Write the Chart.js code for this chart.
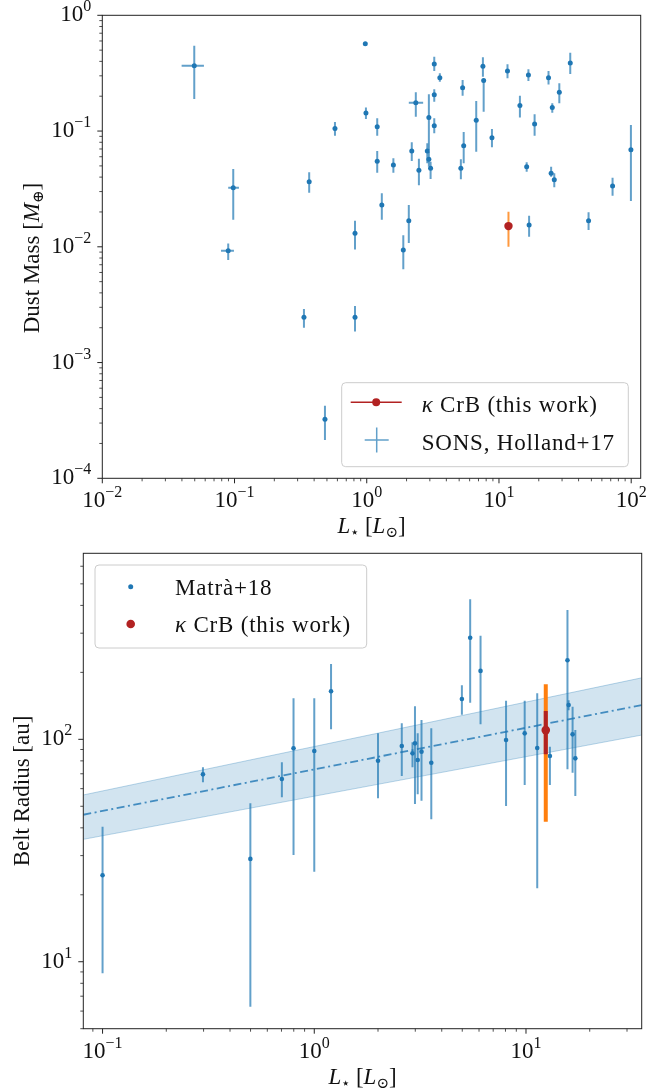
<!DOCTYPE html>
<html>
<head>
<meta charset="utf-8">
<title>Dust mass and belt radius against stellar luminosity</title>
<script src="https://cdn.jsdelivr.net/npm/chart.js@4.4.1/dist/chart.umd.min.js"></script>
<style>
  body { margin: 0; background: #fff; }
  .panel { position: absolute; left: 0; width: 666px; }
  #top-panel { top: 0; height: 545px; }
  #bottom-panel { top: 545px; height: 545px; }
</style>
</head>
<body>
<div class="panel" id="top-panel"><canvas id="mass-chart"></canvas></div>
<div class="panel" id="bottom-panel"><canvas id="radius-chart"></canvas></div>
<script>
//SONS sample, Holland+17 (top panel)
const sonsLum = [0.0496, 0.0896, 0.0978, 0.335, 0.367, 0.483, 0.575, 0.815, 0.815, 0.975,
    0.986, 1.20, 1.20, 1.30, 1.59, 1.89, 2.08, 2.19, 2.35, 2.48,
    2.87, 2.95, 2.95, 3.04, 3.24, 3.24, 3.24, 3.57, 5.15, 5.31,
    5.41, 6.73, 7.56, 7.66, 8.85, 11.6, 14.4, 16.2, 16.7, 16.9,
    18.6, 23.7, 24.8, 25.3, 26.2, 28.6, 34.6, 47.6, 72.3, 99.5];
const sonsMass = [0.367, 0.00925, 0.0324, 0.00246, 0.0365, 0.000324, 0.105, 0.0131, 0.00246, 0.569,
    0.143, 0.109, 0.0548, 0.0230, 0.0509, 0.00938, 0.0168, 0.0673, 0.176, 0.0458,
    0.0673, 0.131, 0.0570, 0.0477, 0.380, 0.206, 0.111, 0.289, 0.0477, 0.237,
    0.0747, 0.124, 0.363, 0.274, 0.0876, 0.330, 0.166, 0.0492, 0.305, 0.0154,
    0.115, 0.289, 0.0431, 0.160, 0.0380, 0.216, 0.387, 0.0168, 0.0335, 0.069];
const sonsMassLo = [0.189, 0.00769, 0.0171, 0.00200, 0.0293, 0.000214, 0.0912, 0.0095, 0.00185, 0.555,
    0.127, 0.0912, 0.0437, 0.0171, 0.0437, 0.0064, 0.0108, 0.0551, 0.133, 0.0340,
    0.0526, 0.0686, 0.0492, 0.0385, 0.330, 0.179, 0.0957, 0.267, 0.0383, 0.202,
    0.0526, 0.0663, 0.295, 0.147, 0.0724, 0.286, 0.131, 0.0445, 0.271, 0.0122,
    0.0912, 0.253, 0.0403, 0.144, 0.0327, 0.174, 0.311, 0.0140, 0.0276, 0.0249];
const sonsMassHi = [0.546, 0.0107, 0.0470, 0.00290, 0.0440, 0.000424, 0.120, 0.0168, 0.00308, 0.585,
    0.160, 0.129, 0.0673, 0.0290, 0.0582, 0.0126, 0.0230, 0.0799, 0.216, 0.0577,
    0.0784, 0.208, 0.0663, 0.0543, 0.439, 0.230, 0.129, 0.315, 0.0570, 0.276,
    0.0981, 0.182, 0.434, 0.281, 0.104, 0.377, 0.202, 0.0537, 0.342, 0.0185,
    0.140, 0.330, 0.0492, 0.174, 0.0431, 0.259, 0.475, 0.0199, 0.0395, 0.113];
// luminosity errors, only a few stars have them
const sonsLumLo = [0.0398, 0.0790, 0.0896, null, null, null, null, null, null, null,
    null, null, null, null, null, null, null, null, 2.08, null,
    null, null, null, null, null, null, null, null, null, null,
    null, null, null, null, null, null, null, null, null, null,
    null, null, null, null, null, null, null, null, null, null];
const sonsLumHi = [0.0587, 0.099, 0.108, null, null, null, null, null, null, null,
    null, null, null, null, null, null, null, null, 2.67, null,
    null, null, null, null, null, null, null, null, null, null,
    null, null, null, null, null, null, null, null, null, null,
    null, null, null, null, null, null, null, null, null, null];

//kappa CrB dust mass
const kcrbLum = [11.8];
const kcrbMass = [0.0151];
const kcrbMassLo = [0.0100];
const kcrbMassHi = [0.0201];

//Matra+18 belts (bottom panel)
const matraLum = [0.1, 0.298, 0.499, 0.703, 0.798, 1.0, 1.2, 2.0, 2.59, 2.91,
    2.99, 3.08, 3.21, 3.57, 4.98, 5.45, 6.10, 8.05, 9.86, 11.3,
    12.97, 15.7, 15.9, 16.6, 17.1];
const matraRadius = [24.5, 69.6, 29.0, 66.3, 91.1, 88.6, 164.4, 80.1, 93.3, 86.5,
    95.9, 80.7, 88.0, 78.5, 151.8, 286, 203, 99.3, 106.4, 91.4,
    84.1, 226.6, 142.7, 105.3, 82.1];
const matraRadiusLo = [8.87, 64.1, 6.28, 54.9, 30.2, 25.4, 111, 54.3, 68.4, 74.8,
    51.2, 56.6, 53, 43.7, 129, 146, 117, 50.1, 62.3, 21.4,
    62.3, 73.3, 135, 70.8, 55.6];
const matraRadiusHi = [40.5, 74.8, 51.6, 78.8, 152.9, 152.9, 218, 106.4, 118, 96.9,
    141, 106.4, 122, 112, 175, 426, 292, 149, 149, 161,
    92.6, 381, 150, 140, 110];

//kappa CrB belt radius, inner and outer error
const kcrbBeltLum = [12.4];
const kcrbRadius = [110];
const kcrbRadiusLo = [85.6];
const kcrbRadiusHi = [134];
const kcrbRadiusOuterLo = [42.6];
const kcrbRadiusOuterHi = [177];

//power law fit and its band
const fitLum = [0.0811, 35.2];
const fitRadius = [45.8, 142.6];
const fitBandLo = [35.5, 104.5];
const fitBandHi = [56.2, 189];

//tick label exponents
const massExp = [-4, -3, -2, -1, 0];
const lumExpTop = [-2, -1, 0, 1, 2];
const radiusExp = [1, 2];
const lumExpBottom = [-1, 0, 1];


const SERIF = '"Liberation Serif", "DejaVu Serif", serif';
const BLUE = '#1f77b4';
const BLUE_BAR = 'rgba(31, 119, 180, 0.7)';
const RED = '#b22222';
const ORANGE = 'rgba(255, 127, 14, 0.8)';

function pts(xs, ys) {
    return xs.map((x, i) => ({ x: x, y: ys[i] }));
}

// text made of pieces (italic letters, small raised or lowered symbols)
function drawPieces(ctx, pieces, x, y, align) {
    let total = 0;
    pieces.forEach(p => {
        ctx.font = (p.italic ? 'italic ' : '') + (p.size || 23) + 'px ' + SERIF;
        p.w = ctx.measureText(p.t).width;
        total += p.w;
    });
    let cx = x;
    if (align === 'center') cx -= total / 2;
    if (align === 'right') cx -= total;
    pieces.forEach(p => {
        ctx.font = (p.italic ? 'italic ' : '') + (p.size || 23) + 'px ' + SERIF;
        ctx.fillText(p.t, cx, y + (p.dy || 0));
        cx += p.w;
    });
}

function powerLabel(k) {
    return [{ t: '10' }, { t: k < 0 ? '\u2212' + (-k) : String(k), size: 16, dy: -10 }];
}

function logTicks(scale) {
    const out = [];
    const lo = Math.floor(Math.log10(scale.min));
    const hi = Math.ceil(Math.log10(scale.max));
    for (let k = lo; k <= hi; k++) {
        for (let j = 1; j <= 9; j++) {
            const v = j * Math.pow(10, k);
            if (v < scale.min * 0.999 || v > scale.max * 1.001) continue;
            out.push({ v: v, major: j === 1 });
        }
    }
    return out;
}

function drawFrame(chart, cfg) {
    const ctx = chart.ctx;
    const a = chart.chartArea;
    const xs = chart.scales.x;
    const ys = chart.scales.y;
    ctx.save();
    ctx.strokeStyle = '#222';
    ctx.lineWidth = 1;
    ctx.strokeRect(a.left, a.top, a.right - a.left, a.bottom - a.top);

    logTicks(xs).forEach(t => {
        const p = xs.getPixelForValue(t.v);
        ctx.lineWidth = t.major ? 1 : 0.8;
        ctx.beginPath();
        ctx.moveTo(p, a.bottom);
        ctx.lineTo(p, a.bottom + (t.major ? 5 : 3));
        ctx.stroke();
    });
    logTicks(ys).forEach(t => {
        const p = ys.getPixelForValue(t.v);
        ctx.lineWidth = t.major ? 1 : 0.8;
        ctx.beginPath();
        ctx.moveTo(a.left, p);
        ctx.lineTo(a.left - (t.major ? 5 : 3), p);
        ctx.stroke();
    });

    ctx.fillStyle = '#111';
    ctx.textBaseline = 'alphabetic';
    cfg.xExp.forEach(k => {
        drawPieces(ctx, powerLabel(k), xs.getPixelForValue(Math.pow(10, k)), a.bottom + 29, 'center');
    });
    cfg.yExp.forEach(k => {
        drawPieces(ctx, powerLabel(k), a.left - 11, ys.getPixelForValue(Math.pow(10, k)) + 6, 'right');
    });

    drawPieces(ctx, cfg.xTitle, (a.left + a.right) / 2, a.bottom + 55, 'center');
    ctx.translate(cfg.yTitleX, cfg.yTitleY);
    ctx.rotate(-Math.PI / 2);
    drawPieces(ctx, cfg.yTitle, 0, 0, 'center');
    ctx.restore();
}

function legendBox(ctx, x, y, w, h) {
    ctx.beginPath();
    ctx.roundRect(x, y, w, h, 4);
    ctx.fillStyle = 'rgba(255, 255, 255, 0.8)';
    ctx.fill();
    ctx.strokeStyle = '#cccccc';
    ctx.lineWidth = 1;
    ctx.stroke();
}

const kcrbText = [{ t: '\u03ba', italic: true }, { t: ' CrB (this work)' }];
const lumTitle = [{ t: 'L', italic: true }, { t: '\u22c6', size: 15, dy: 4 }, { t: ' [' },
    { t: 'L', italic: true }, { t: '\u2299', size: 15, dy: 4 }, { t: ']' }];

// error bars, drawn just under each dataset's markers
const errorBars = {
    id: 'errorBars',
    beforeDatasetDraw(chart, args) {
        const ds = chart.data.datasets[args.index];
        if (!ds.errBars) return;
        const ctx = chart.ctx;
        const a = chart.chartArea;
        const xs = chart.scales.x;
        const ys = chart.scales.y;
        ctx.save();
        ctx.beginPath();
        ctx.rect(a.left, a.top, a.right - a.left, a.bottom - a.top);
        ctx.clip();
        ds.errBars.forEach(b => {
            ctx.strokeStyle = b.color;
            ctx.lineWidth = b.width;
            ds.data.forEach((p, i) => {
                const px = xs.getPixelForValue(p.x);
                const py = ys.getPixelForValue(p.y);
                if (b.yLo) {
                    ctx.beginPath();
                    ctx.moveTo(px, ys.getPixelForValue(b.yLo[i]));
                    ctx.lineTo(px, ys.getPixelForValue(b.yHi[i]));
                    ctx.stroke();
                }
                if (b.xLo && b.xLo[i] != null) {
                    ctx.beginPath();
                    ctx.moveTo(xs.getPixelForValue(b.xLo[i]), py);
                    ctx.lineTo(xs.getPixelForValue(b.xHi[i]), py);
                    ctx.stroke();
                }
            });
        });
        ctx.restore();
    }
};

const massDecor = {
    id: 'massDecor',
    afterDraw(chart) {
        drawFrame(chart, {
            xExp: lumExpTop,
            yExp: massExp,
            xTitle: lumTitle,
            yTitle: [{ t: 'Dust Mass [' }, { t: 'M', italic: true }, { t: '\u2295', size: 15, dy: 4 }, { t: ']' }],
            yTitleX: 39,
            yTitleY: 258
        });
        const ctx = chart.ctx;
        ctx.save();
        legendBox(ctx, 341.7, 382.7, 286.6, 84);
        // red line with dot
        ctx.strokeStyle = RED;
        ctx.lineWidth = 1.5;
        ctx.beginPath();
        ctx.moveTo(350.7, 402.3);
        ctx.lineTo(401.7, 402.3);
        ctx.stroke();
        ctx.fillStyle = RED;
        ctx.beginPath();
        ctx.arc(376.2, 402.3, 4, 0, Math.PI * 2);
        ctx.fill();
        // error bar cross
        ctx.strokeStyle = BLUE_BAR;
        ctx.lineWidth = 1.5;
        ctx.beginPath();
        ctx.moveTo(364.7, 440);
        ctx.lineTo(388.7, 440);
        ctx.moveTo(376.7, 427.5);
        ctx.lineTo(376.7, 452.5);
        ctx.stroke();
        ctx.fillStyle = '#111';
        ctx.letterSpacing = '0.8px';
        drawPieces(ctx, kcrbText, 421.7, 412, 'left');
        drawPieces(ctx, [{ t: 'SONS, Holland+17' }], 421.7, 450, 'left');
        ctx.restore();
    }
};

const radiusDecor = {
    id: 'radiusDecor',
    afterDraw(chart) {
        drawFrame(chart, {
            xExp: lumExpBottom,
            yExp: radiusExp,
            xTitle: lumTitle,
            yTitle: [{ t: 'Belt Radius [au]' }],
            yTitleX: 29,
            yTitleY: 246
        });
        const ctx = chart.ctx;
        ctx.save();
        legendBox(ctx, 95, 20, 271.7, 83);
        ctx.fillStyle = BLUE;
        ctx.beginPath();
        ctx.arc(130.7, 41.7, 2.5, 0, Math.PI * 2);
        ctx.fill();
        ctx.fillStyle = RED;
        ctx.beginPath();
        ctx.arc(130.7, 79, 4.3, 0, Math.PI * 2);
        ctx.fill();
        ctx.fillStyle = '#111';
        ctx.letterSpacing = '0.8px';
        drawPieces(ctx, [{ t: 'Matr\u00e0+18' }], 175, 50, 'left');
        drawPieces(ctx, kcrbText, 175, 86.7, 'left');
        ctx.restore();
    }
};

function logAxis(min, max) {
    return { type: 'logarithmic', min: min, max: max, bounds: 'data', display: false };
}

//Dust mass chart
const massCanvas = document.getElementById('mass-chart');

let massChart = new Chart(massCanvas, {
    type: 'scatter',
    data: {
        datasets: [{
            label: 'kappa CrB (this work)',
            data: pts(kcrbLum, kcrbMass),
            backgroundColor: RED,
            pointRadius: 4.2,
            pointBorderWidth: 0,
            order: 0,
            errBars: [{ color: ORANGE, width: 2, yLo: kcrbMassLo, yHi: kcrbMassHi }]
        }, {
            label: 'SONS, Holland+17',
            data: pts(sonsLum, sonsMass),
            backgroundColor: BLUE,
            pointRadius: 2.5,
            pointBorderWidth: 0,
            order: 1,
            errBars: [{ color: BLUE_BAR, width: 2, yLo: sonsMassLo, yHi: sonsMassHi, xLo: sonsLumLo, xHi: sonsLumHi }]
        }]
    },
    options: {
        responsive: true,
        maintainAspectRatio: false,
        animation: false,
        events: [],
        layout: { padding: { left: 102.3, right: 25.3, top: 15.3, bottom: 66.7 } },
        scales: {
            x: logAxis(0.01, 118),
            y: logAxis(1e-4, 1)
        },
        plugins: { legend: { display: false }, tooltip: { enabled: false } }
    },
    plugins: [errorBars, massDecor]
});

//Belt radius chart
const radiusCanvas = document.getElementById('radius-chart');

let radiusChart = new Chart(radiusCanvas, {
    type: 'scatter',
    data: {
        datasets: [{
            type: 'line',
            label: 'band upper',
            data: pts(fitLum, fitBandHi),
            borderColor: 'rgba(31, 119, 180, 0.3)',
            borderWidth: 1,
            backgroundColor: 'rgba(31, 119, 180, 0.2)',
            pointRadius: 0,
            fill: '+1',
            order: 5
        }, {
            type: 'line',
            label: 'band lower',
            data: pts(fitLum, fitBandLo),
            borderColor: 'rgba(31, 119, 180, 0.3)',
            borderWidth: 1,
            pointRadius: 0,
            fill: false,
            order: 5
        }, {
            type: 'line',
            label: 'fit',
            data: pts(fitLum, fitRadius),
            borderColor: 'rgba(31, 119, 180, 0.8)',
            borderWidth: 1.8,
            borderDash: [8, 3.5, 2, 3.5],
            pointRadius: 0,
            fill: false,
            order: 4
        }, {
            label: 'Matra+18',
            data: pts(matraLum, matraRadius),
            backgroundColor: BLUE,
            pointRadius: 2.3,
            pointBorderWidth: 0,
            order: 1,
            errBars: [{ color: BLUE_BAR, width: 2, yLo: matraRadiusLo, yHi: matraRadiusHi }]
        }, {
            label: 'kappa CrB (this work)',
            data: pts(kcrbBeltLum, kcrbRadius),
            backgroundColor: RED,
            pointRadius: 4.3,
            pointBorderWidth: 0,
            order: 0,
            errBars: [
                { color: '#ff7f0e', width: 4, yLo: kcrbRadiusOuterLo, yHi: kcrbRadiusOuterHi },
                { color: RED, width: 4, yLo: kcrbRadiusLo, yHi: kcrbRadiusHi }
            ]
        }]
    },
    options: {
        responsive: true,
        maintainAspectRatio: false,
        animation: false,
        events: [],
        layout: { padding: { left: 83.3, right: 24.3, top: 8.3, bottom: 61.3 } },
        scales: {
            x: logAxis(0.0811, 35.2),
            y: logAxis(5.0, 686)
        },
        plugins: { legend: { display: false }, tooltip: { enabled: false } }
    },
    plugins: [errorBars, radiusDecor]
});
</script>
</body>
</html>
